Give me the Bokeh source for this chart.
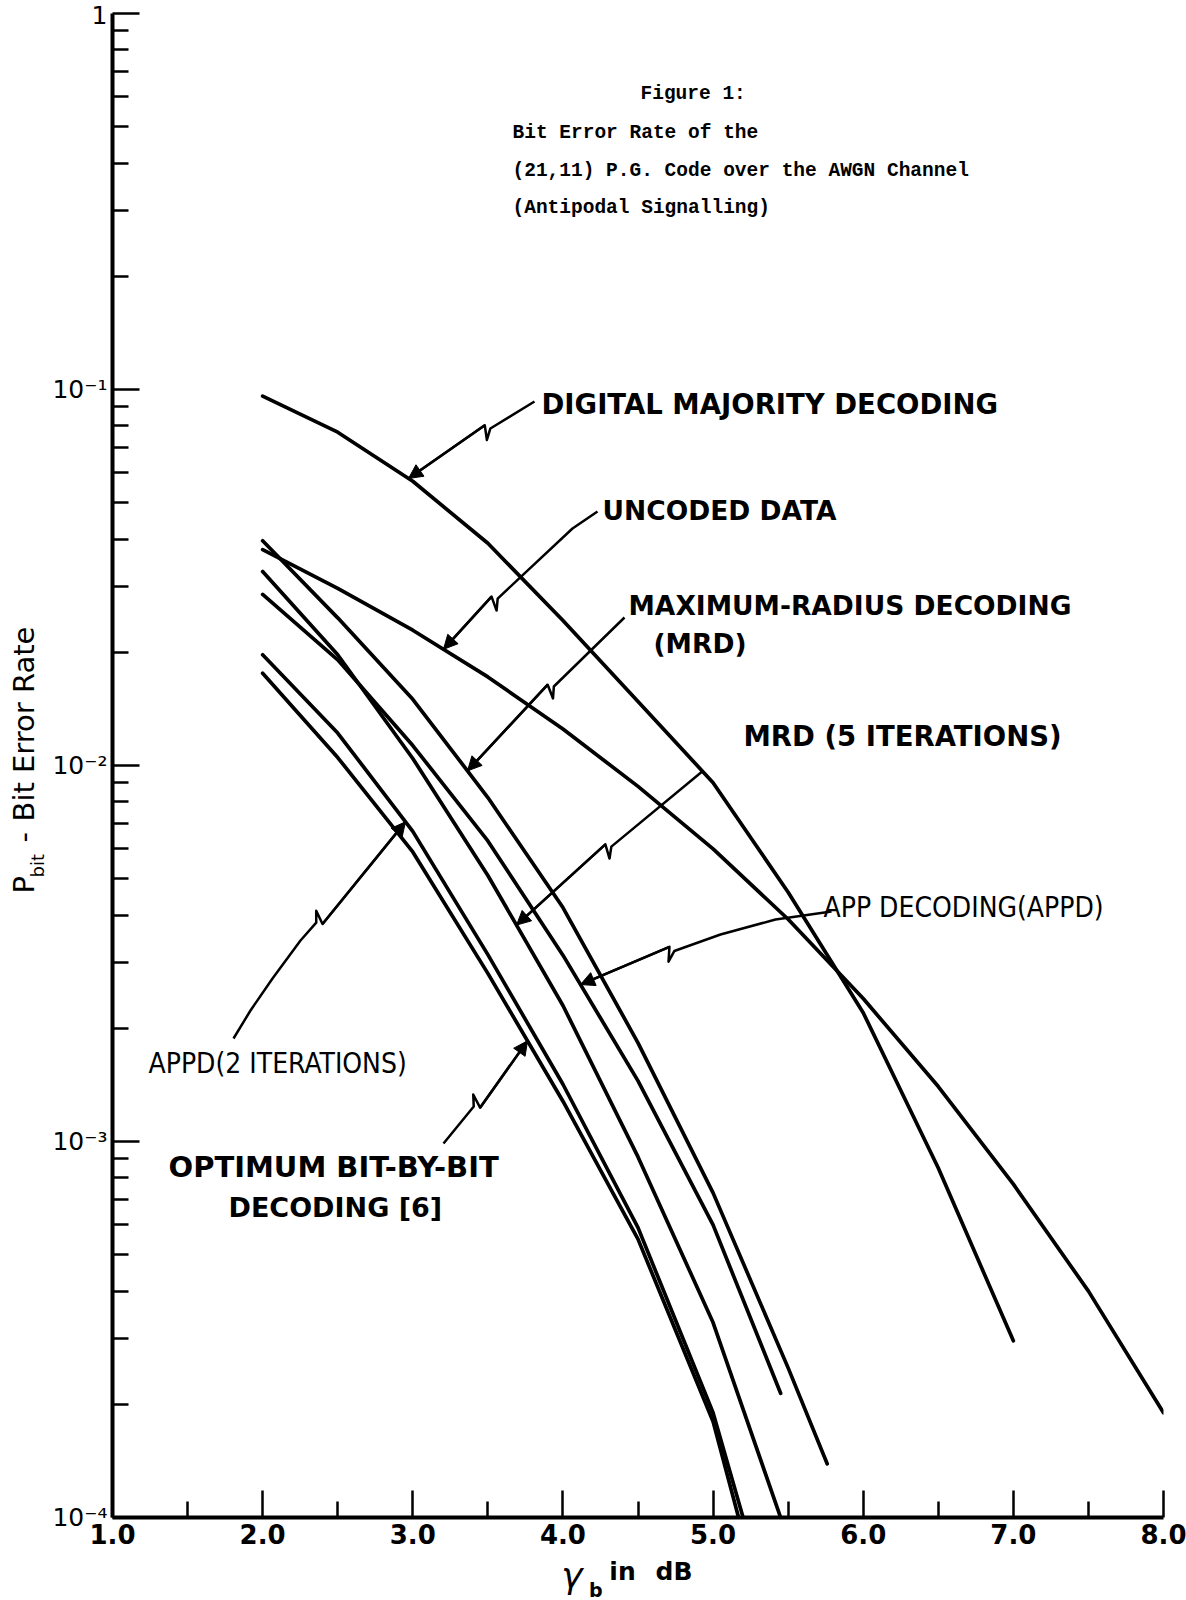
import math
import numpy as np
from bokeh.plotting import figure
from bokeh.layouts import row, column
from bokeh.models import (FixedTicker, CustomJSTickFormatter, Label, Arrow,
                          NormalHead, Range1d)
from bokeh.embed import file_html
from bokeh.resources import INLINE

# ---------------- data ----------------
# Digital majority decoding
DM_X = [2.0, 2.5, 3.0, 3.5, 4.0, 4.5, 5.0, 5.5, 6.0, 6.5, 7.0]
DM_Y = [0.096, 0.077, 0.057, 0.039, 0.0243, 0.0148, 0.0090, 0.0046, 0.0022, 0.00085, 0.000295]
# Uncoded data
UC_X = [2.0, 2.5, 3.0, 3.5, 4.0, 4.5, 5.0, 5.5, 6.0, 6.5, 7.0, 7.5, 8.0]
UC_Y = [0.0375, 0.0296, 0.0229, 0.0172, 0.0125, 0.0088, 0.0060, 0.0039, 0.0024, 0.0014, 0.00077, 0.00040, 0.00019]
# Maximum-radius decoding (MRD)
MRD_X = [2.0, 2.5, 3.0, 3.5, 4.0, 4.5, 5.0, 5.5, 5.76]
MRD_Y = [0.0396, 0.0247, 0.0150, 0.00822, 0.00419, 0.00183, 0.00073, 0.00025, 0.000139]
# MRD (5 iterations)
MRD5_X = [2.0, 2.5, 3.0, 3.5, 4.0, 4.5, 5.0, 5.45]
MRD5_Y = [0.0328, 0.0197, 0.01044, 0.0051, 0.0023, 0.00091, 0.00033, 0.0001]
# APP decoding (APPD)
APPD_X = [2.0, 2.5, 3.0, 3.5, 4.0, 4.5, 5.0, 5.45]
APPD_Y = [0.0285, 0.0191, 0.0113, 0.0063, 0.00313, 0.00145, 0.00060, 0.000214]
# APPD (2 iterations)
APPD2_X = [2.0, 2.5, 3.0, 3.5, 4.0, 4.5, 5.0, 5.2]
APPD2_Y = [0.0197, 0.0122, 0.00668, 0.00314, 0.00142, 0.00059, 0.00019, 0.0001]
# Optimum bit-by-bit decoding
OPT_X = [2.0, 2.5, 3.0, 3.5, 4.0, 4.5, 5.0, 5.17]
OPT_Y = [0.0176, 0.0105, 0.00589, 0.0028, 0.00128, 0.00055, 0.00018, 0.0001]

X_TICKS = [1.0, 2.0, 3.0, 4.0, 5.0, 6.0, 7.0, 8.0]
X_TICK_LABELS = ["1.0", "2.0", "3.0", "4.0", "5.0", "6.0", "7.0", "8.0"]
X_MINOR = [1.5, 2.5, 3.5, 4.5, 5.5, 6.5, 7.5]
Y_TICKS = [1e-4, 1e-3, 1e-2, 1e-1, 1.0]
Y_TICK_LABELS = ["10\u207b\u2074", "10\u207b\u00b3", "10\u207b\u00b2", "10\u207b\u00b9", "1"]
Y_MINOR = [m * 10.0 ** e for e in (-4, -3, -2, -1) for m in range(2, 10)]

TITLE_LINES = ["Figure 1:", "Bit Error Rate of the",
               "(21,11) P.G. Code over the AWGN Channel", "(Antipodal Signalling)"]

# ---------------- layout (window pixels) ----------------
PAGE_W, PAGE_H = 1186, 1600
LEFT_W = 48            # strip holding the y-axis title
BOTTOM_H = 45          # strip holding the x-axis title
FL, FR, FT, FB = 112, 1163, 13, 1517   # plot frame edges in the window
MAIN_W = PAGE_W - LEFT_W
MAIN_H = PAGE_H - BOTTOM_H
SX = (FR - FL) / 7.0
SY = (FB - FT) / 4.0


def wx(xw):
    return 1.0 + (xw - FL) / SX


def wy(yw):
    return 10 ** (-4 + (FB - yw) / SY)


p = figure(width=MAIN_W, height=MAIN_H, x_range=Range1d(1.0, 8.0), y_range=Range1d(1e-4, 1.0),
           y_axis_type="log", output_backend="svg", toolbar_location=None,
           min_border_left=FL - LEFT_W, min_border_right=PAGE_W - FR,
           min_border_top=FT, min_border_bottom=MAIN_H - FB)
p.outline_line_color = None
p.xgrid.visible = False
p.ygrid.visible = False
p.background_fill_color = "white"
p.border_fill_color = "white"

for ax in (p.xaxis[0], p.yaxis[0]):
    ax.axis_line_width = 4
    ax.axis_line_color = "black"
    ax.major_tick_line_width = 2.5
    ax.minor_tick_line_width = 2.5
    ax.major_tick_line_color = "black"
    ax.minor_tick_line_color = "black"
    ax.major_tick_out = 0
    ax.minor_tick_out = 0
    ax.major_label_text_color = "black"

p.xaxis.ticker = FixedTicker(ticks=X_TICKS, minor_ticks=X_MINOR)
p.xaxis.formatter = CustomJSTickFormatter(args=dict(vals=X_TICKS, labs=X_TICK_LABELS), code="""
for (let i = 0; i < vals.length; i++) { if (Math.abs(tick - vals[i]) < 1e-6) return labs[i]; }
return "";""")
p.xaxis.major_tick_in = 27
p.xaxis.minor_tick_in = 16
p.xaxis.major_label_text_font = "DejaVu Sans"
p.xaxis.major_label_text_font_style = "bold"
p.xaxis.major_label_text_font_size = "26px"
p.xaxis.major_label_standoff = 6

p.yaxis.ticker = FixedTicker(ticks=Y_TICKS, minor_ticks=Y_MINOR)
p.yaxis.formatter = CustomJSTickFormatter(args=dict(vals=Y_TICKS, labs=Y_TICK_LABELS), code="""
for (let i = 0; i < vals.length; i++) { if (Math.abs(Math.log10(tick) - Math.log10(vals[i])) < 1e-6) return labs[i]; }
return "";""")
p.yaxis.major_tick_in = 27
p.yaxis.minor_tick_in = 16
p.yaxis.major_label_text_font = "DejaVu Sans"
p.yaxis.major_label_text_font_size = "25px"
p.yaxis.major_label_standoff = 5

# ---------------- curves ----------------
CURVES = {
    "DM": (DM_X, DM_Y), "UC": (UC_X, UC_Y), "MRD": (MRD_X, MRD_Y),
    "MRD5": (MRD5_X, MRD5_Y), "APPD": (APPD_X, APPD_Y),
    "APPD2": (APPD2_X, APPD2_Y), "OPT": (OPT_X, OPT_Y),
}
for xs, ys in CURVES.values():
    p.line(xs, ys, line_width=3.7, line_color="black", line_join="round", line_cap="round")


def on_curve(name, x):
    xs, ys = CURVES[name]
    return (x, 10 ** float(np.interp(x, xs, np.log10(ys))))


def to_px(pt):
    return (pt[0] * SX, math.log10(pt[1]) * SY)


def from_px(q):
    return (q[0] / SX, 10 ** (q[1] / SY))


def leader(points, seg, t, h=8.0, g=9.0):
    P = [to_px(q) for q in points]
    a, b = P[seg], P[seg + 1]
    dx, dy = b[0] - a[0], b[1] - a[1]
    L = math.hypot(dx, dy)
    ux, uy = dx / L, dy / L
    nx, ny = -uy, ux
    base = (a[0] + t * dx, a[1] + t * dy)
    z1 = (base[0] + ux * g + nx * h, base[1] + uy * g + ny * h)
    z2 = (base[0] + ux * g * 0.35 - nx * h * 0.7, base[1] + uy * g * 0.35 - ny * h * 0.7)
    newp = P[:seg + 1] + [base, z1, z2] + P[seg + 1:]
    pts = [from_px(q) for q in newp]
    xs = [q[0] for q in pts]
    ys = [q[1] for q in pts]
    p.line(xs, ys, line_width=2.5, line_color="black", line_join="round")
    p.add_layout(Arrow(end=NormalHead(size=14, fill_color="black", line_color="black", line_width=1),
                       x_start=xs[-2], y_start=ys[-2], x_end=xs[-1], y_end=ys[-1],
                       line_width=2.5, line_color="black"))


def W2D(xw, yw):
    return (wx(xw), wy(yw))


leader([W2D(534, 401), on_curve("DM", wx(408))], 0, 0.35)
leader([W2D(597, 511), W2D(572, 528), on_curve("UC", wx(443))], 1, 0.58)
leader([W2D(624, 617), on_curve("MRD", wx(467))], 0, 0.45)
leader([on_curve("DM", wx(702)), on_curve("MRD5", wx(516))], 0, 0.49)
leader([W2D(831, 911), W2D(775, 919), W2D(720, 934), on_curve("APPD", wx(580))], 2, 0.33)
leader([W2D(233, 1038), W2D(250, 1010), W2D(272, 978), W2D(300, 940),
        on_curve("APPD2", wx(405))], 3, 0.15)
leader([W2D(443, 1143), on_curve("OPT", wx(527))], 0, 0.36)

# ---------------- texts inside the plot ----------------
BOLD_LABELS = [
    ("DIGITAL MAJORITY DECODING", 541, 403, "27.5px"),
    ("UNCODED DATA", 602, 510, "26.5px"),
    ("MAXIMUM-RADIUS DECODING", 628, 605, "26.5px"),
    ("(MRD)", 653, 643, "26.5px"),
    ("MRD (5 ITERATIONS)", 743, 735, "27.5px"),
    ("OPTIMUM BIT-BY-BIT", 168, 1166, "29px"),
    ("DECODING [6]", 228, 1207, "27px"),
]
for txt, xw, yw, size in BOLD_LABELS:
    p.add_layout(Label(x=wx(xw), y=wy(yw), text=txt, text_font="DejaVu Sans",
                       text_font_style="bold", text_font_size=size,
                       text_align="left", text_baseline="middle", text_color="black"))

NARROW_LABELS = [
    ("APP DECODING(APPD)", 823, 907),
    ("APPD(2 ITERATIONS)", 148, 1063),
]
for txt, xw, yw in NARROW_LABELS:
    p.add_layout(Label(x=wx(xw), y=wy(yw), text=txt, text_font="DejaVu Sans Condensed",
                       text_font_size="28px", text_align="left", text_baseline="middle",
                       text_color="black"))

for txt, xw, yw in zip(TITLE_LINES, [640, 512, 512, 512], [93, 132, 170, 207]):
    p.add_layout(Label(x=wx(xw), y=wy(yw), text=txt, text_font="Liberation Mono",
                       text_font_style="bold", text_font_size="19.5px",
                       text_align="left", text_baseline="middle", text_color="black"))

# ---------------- axis titles (separate strips, window-pixel coordinates) ----------------
ytitle = figure(width=LEFT_W, height=PAGE_H, x_range=Range1d(0, LEFT_W), y_range=Range1d(0, PAGE_H),
                x_axis_type=None, y_axis_type=None, output_backend="svg", toolbar_location=None,
                min_border=0, outline_line_color=None)
ytitle.xgrid.visible = False
ytitle.ygrid.visible = False
for txt, xw, yw, size in [("P", 23, 893, "29px"), ("bit", 37, 877, "18px"),
                          ("-", 23, 842, "29px"), ("Bit Error Rate", 23, 821, "29px")]:
    ytitle.add_layout(Label(x=xw, y=PAGE_H - yw, text=txt, text_font="DejaVu Sans",
                            text_font_size=size, angle=math.pi / 2,
                            text_align="left", text_baseline="middle", text_color="black"))

xtitle = figure(width=MAIN_W, height=BOTTOM_H, x_range=Range1d(LEFT_W, PAGE_W),
                y_range=Range1d(0, BOTTOM_H), x_axis_type=None, y_axis_type=None,
                output_backend="svg", toolbar_location=None, min_border=0,
                outline_line_color=None)
xtitle.xgrid.visible = False
xtitle.ygrid.visible = False
for txt, xw, yw, size, style in [("\u03b3", 534, 1575, "36px", "italic"),
                                 ("b", 564, 1589, "19px", "bold"),
                                 ("in", 586, 1571, "25px", "bold"),
                                 ("dB", 636, 1571, "25px", "bold")]:
    xtitle.add_layout(Label(x=xw, y=PAGE_H - yw, text=txt, text_font="DejaVu Sans",
                            text_font_style=style, text_font_size=size,
                            text_align="left", text_baseline="middle", text_color="black"))

layout = row(ytitle, column(p, xtitle, spacing=0), spacing=0)
open("out.html", "w").write(file_html(layout, INLINE))
